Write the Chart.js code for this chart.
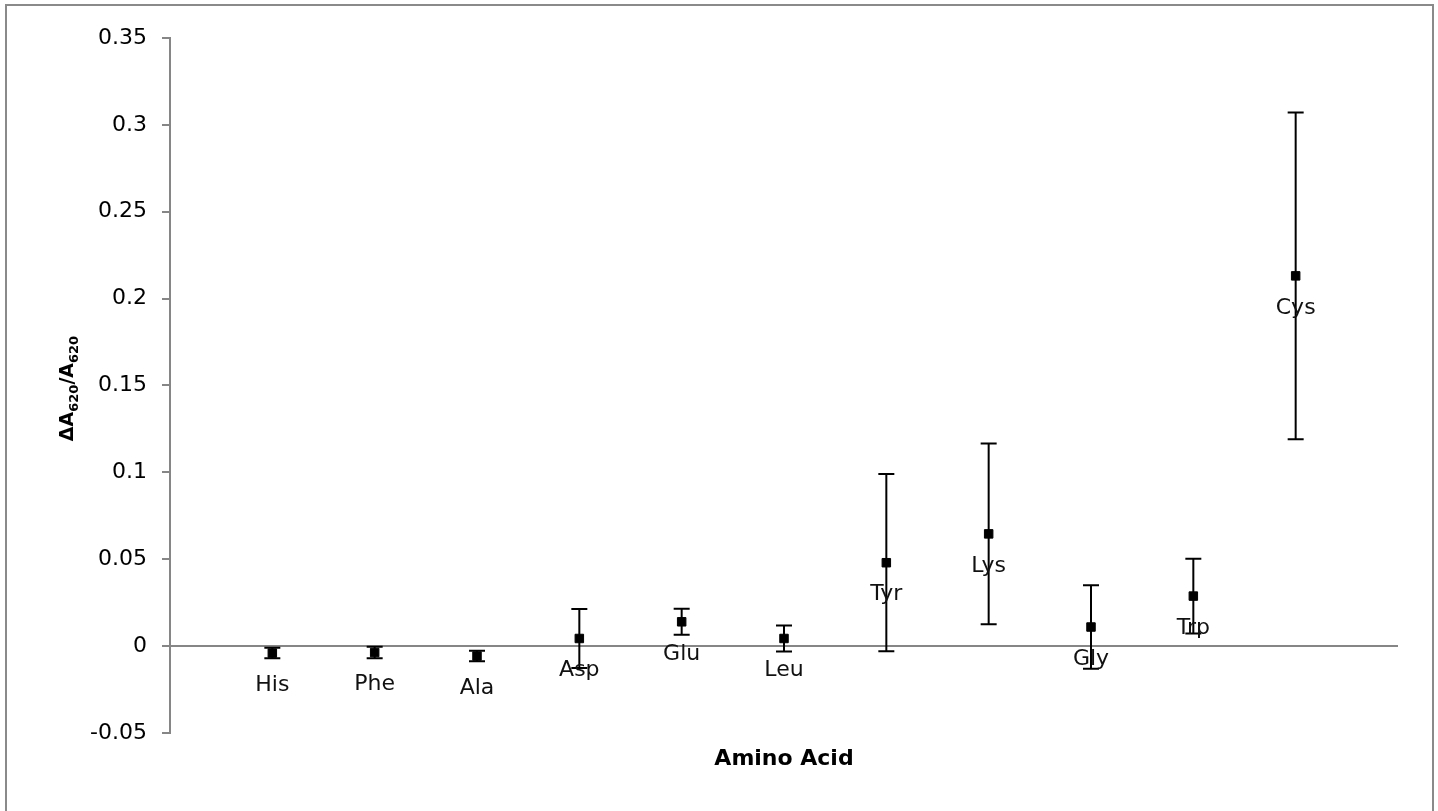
<!DOCTYPE html>
<html>
<head>
<meta charset="utf-8">
<script src="https://cdn.jsdelivr.net/npm/chart.js@4"></script>
<style>
  html, body { margin: 0; padding: 0; background: #fff; overflow: hidden; }
  #wrap { position: relative; width: 1438px; height: 811px; }
  #frame { position: absolute; left: 5px; top: 4px; width: 1425px; height: 820px; border: 2px solid #8a8a8a; }
  canvas { position: absolute; left: 0; top: 0; }
</style>
</head>
<body>
<div id="wrap">
  <div id="frame"></div>
  <canvas id="grafico" width="1438" height="811"></canvas>
</div>
<script>
// Dados
const aminoacidos = ['His', 'Phe', 'Ala', 'Asp', 'Glu', 'Leu', 'Tyr', 'Lys', 'Gly', 'Trp', 'Cys'];
const posicoes = [1, 2, 3, 4, 5, 6, 7, 8, 9, 10, 11];
const valores = [-0.004, -0.0037, -0.0057, 0.0044, 0.014, 0.0044, 0.048, 0.0646, 0.011, 0.0288, 0.2131];
const erros = [0.003, 0.0033, 0.003, 0.017, 0.0075, 0.0075, 0.051, 0.052, 0.024, 0.0215, 0.094];
const ticksY = [-0.05, 0, 0.05, 0.1, 0.15, 0.2, 0.25, 0.3, 0.35];

const corEixo = '#868686';
const fonte = 'DejaVu Sans';

// Barras de erro
const barrasErro = {
    id: 'barrasErro',
    beforeDatasetsDraw(chart) {
        const ctx = chart.ctx;
        const x = chart.scales.x;
        const y = chart.scales.y;
        ctx.save();
        ctx.strokeStyle = '#000';
        ctx.lineWidth = 2;
        for (let i = 0; i < valores.length; i++) {
            const px = x.getPixelForValue(posicoes[i]);
            const topo = y.getPixelForValue(valores[i] + erros[i]);
            const base = y.getPixelForValue(valores[i] - erros[i]);
            ctx.beginPath();
            ctx.moveTo(px, topo);
            ctx.lineTo(px, base);
            ctx.moveTo(px - 8, topo);
            ctx.lineTo(px + 8, topo);
            ctx.moveTo(px - 8, base);
            ctx.lineTo(px + 8, base);
            ctx.stroke();
        }
        ctx.restore();
    }
};

// Rótulos abaixo dos pontos
const rotulos = {
    id: 'rotulos',
    afterDatasetsDraw(chart) {
        const ctx = chart.ctx;
        const x = chart.scales.x;
        const y = chart.scales.y;
        ctx.save();
        ctx.font = '22px "' + fonte + '"';
        ctx.fillStyle = '#111';
        ctx.textAlign = 'center';
        ctx.textBaseline = 'middle';
        for (let i = 0; i < aminoacidos.length; i++) {
            ctx.fillText(aminoacidos[i], x.getPixelForValue(posicoes[i]), y.getPixelForValue(valores[i]) + 32);
        }
        ctx.restore();
    }
};

// Títulos dos eixos
const titulos = {
    id: 'titulos',
    afterDraw(chart) {
        const ctx = chart.ctx;
        const area = chart.chartArea;
        ctx.save();
        ctx.fillStyle = '#000';
        ctx.textBaseline = 'alphabetic';

        // eixo X
        ctx.font = 'bold 22px "' + fonte + '"';
        ctx.textAlign = 'center';
        ctx.fillText('Amino Acid', (area.left + area.right) / 2, 765);

        // eixo Y com subscritos
        const partes = [
            { t: '\u0394A', sub: false },
            { t: '620', sub: true },
            { t: '/A', sub: false },
            { t: '620', sub: true }
        ];
        const fNormal = 'bold 19px "' + fonte + '"';
        const fSub = 'bold 13px "' + fonte + '"';
        let total = 0;
        partes.forEach(p => {
            ctx.font = p.sub ? fSub : fNormal;
            p.w = ctx.measureText(p.t).width;
            total += p.w;
        });
        ctx.translate(73, (area.top + area.bottom) / 2 + 3);
        ctx.rotate(-Math.PI / 2);
        ctx.textAlign = 'left';
        let cx = -total / 2;
        partes.forEach(p => {
            ctx.font = p.sub ? fSub : fNormal;
            ctx.fillText(p.t, cx, p.sub ? 5 : 0);
            cx += p.w;
        });
        ctx.restore();
    }
};

const ctx = document.getElementById('grafico').getContext('2d');
new Chart(ctx, {
    type: 'scatter',
    data: {
        datasets: [{
            data: posicoes.map((p, i) => ({ x: p, y: valores[i] })),
            backgroundColor: '#000',
            borderColor: '#000',
            borderWidth: 1,
            pointStyle: 'rect',
            pointRadius: 6,
            pointHoverRadius: 6
        }]
    },
    options: {
        responsive: false,
        animation: false,
        events: [],
        layout: {
            padding: { top: 38, bottom: 78, right: 40, left: 0 }
        },
        plugins: {
            legend: { display: false },
            tooltip: { enabled: false }
        },
        scales: {
            x: {
                type: 'linear',
                min: 0,
                max: 12,
                display: false
            },
            y: {
                min: -0.05,
                max: 0.35,
                afterFit(scale) {
                    scale.width = 170;
                },
                afterBuildTicks(scale) {
                    scale.ticks = ticksY.map(v => ({ value: v }));
                },
                border: { display: true, color: corEixo, width: 2 },
                grid: {
                    color: (c) => (c.tick && c.tick.value === 0 ? corEixo : 'rgba(0,0,0,0)'),
                    lineWidth: 2,
                    tickColor: corEixo,
                    tickLength: 8,
                    drawTicks: true
                },
                ticks: {
                    padding: 15,
                    color: '#000',
                    font: { family: fonte, size: 22 },
                    callback: (v) => String(Math.round(v * 100) / 100)
                }
            }
        }
    },
    plugins: [barrasErro, rotulos, titulos]
});
</script>
</body>
</html>
